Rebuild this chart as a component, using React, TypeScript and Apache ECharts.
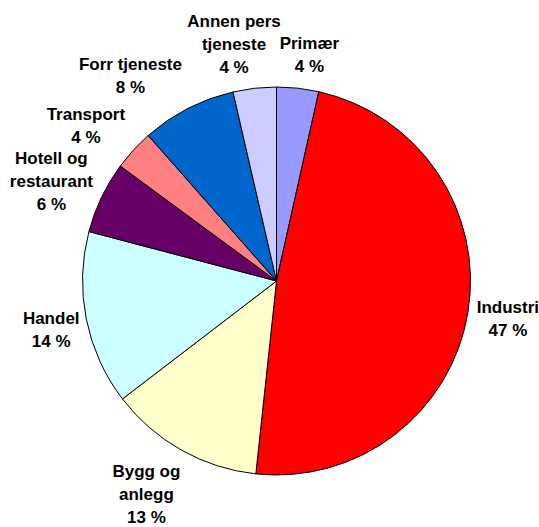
import React, { useEffect, useRef } from "react";
import * as echarts from "echarts";

const categories = [
  "Primær",
  "Industri",
  "Bygg og\nanlegg",
  "Handel",
  "Hotell og\nrestaurant",
  "Transport",
  "Forr tjeneste",
  "Annen pers\ntjeneste",
];
const shares = [3.5, 48.2, 12.9, 14.5, 6.0, 3.4, 7.9, 3.6];
const pctLabels = ["4 %", "47 %", "13 %", "14 %", "6 %", "4 %", "8 %", "4 %"];
const colors = ["#9999FF", "#FF0000", "#FFFFCC", "#CCFFFF", "#660066", "#FF8080", "#0066CC", "#CCCCFF"];
// label placement tweaks (degrees, pixels) to mimic the reference's label avoidance
const labelAngleShift = [2, 0, 2, -1, -1.8, -3.3, -8.3, -3.7];
const labelGap = [7, 6, 9, 4, 0, 7, 9, 4];

const CX = 276.5;
const CY = 281;
const R = 194;

export default function App() {
  const ref = useRef<HTMLDivElement>(null);
  useEffect(() => {
    document.body.style.margin = "0";
    const chart = echarts.init(ref.current!, undefined, { renderer: "svg" });
    const total = shares.reduce((a, b) => a + b, 0);
    const cum: number[] = [];
    let acc = 0;
    shares.forEach((v) => {
      cum.push(acc);
      acc += v;
    });
    chart.setOption({
      animation: false,
      backgroundColor: "#ffffff",
      series: [
        {
          type: "pie",
          center: [CX, CY],
          radius: R,
          startAngle: 90,
          clockwise: true,
          silent: true,
          avoidLabelOverlap: false,
          data: categories.map((name, i) => ({
            name,
            value: shares[i],
            itemStyle: { color: colors[i] },
            label: { formatter: name + "\n" + pctLabels[i] },
          })),
          itemStyle: { borderColor: "#000000", borderWidth: 1 },
          label: {
            show: true,
            position: "outside",
            fontFamily: "Liberation Sans, Arial, sans-serif",
            fontWeight: "bold",
            fontSize: 17,
            lineHeight: 23,
            color: "#000000",
            align: "center",
            overflow: "none",
          },
          labelLine: { show: false },
          labelLayout: (p: any) => {
            const i = p.dataIndex;
            const mid =
              ((cum[i] + shares[i] / 2) / total) * Math.PI * 2 + (labelAngleShift[i] * Math.PI) / 180;
            const sx = Math.sin(mid);
            const sy = -Math.cos(mid);
            const w = p.labelRect.width;
            const h = p.labelRect.height;
            const d = R + labelGap[i] + (Math.abs(sx) * w) / 2 + (Math.abs(sy) * h) / 2;
            return {
              x: CX + d * sx,
              y: CY + d * sy,
              align: "center",
              verticalAlign: "middle",
            };
          },
        },
      ],
    });
    return () => chart.dispose();
  }, []);
  return <div ref={ref} style={{ width: 539, height: 527 }} />;
}
